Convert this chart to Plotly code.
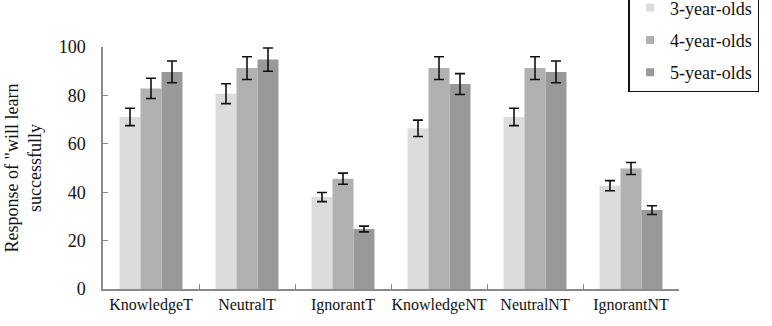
import plotly.graph_objects as go

categories = ["KnowledgeT", "NeutralT", "IgnorantT", "KnowledgeNT", "NeutralNT", "IgnorantNT"]
series_names = ["3-year-olds", "4-year-olds", "5-year-olds"]
age3 = [71.1, 80.7, 38.0, 66.4, 71.1, 42.7]
age4 = [82.9, 91.3, 45.6, 91.3, 91.3, 49.8]
age5 = [89.7, 94.8, 24.8, 84.7, 89.7, 32.6]
err3 = [3.6, 4.1, 1.9, 3.4, 3.6, 2.1]
err4 = [4.2, 4.7, 2.3, 4.7, 4.7, 2.5]
err5 = [4.5, 4.8, 1.2, 4.3, 4.5, 1.8]
colors = ["#dcdcdc", "#b1b1b1", "#999999"]
y_ticks = [0, 20, 40, 60, 80, 100]

FONT = "Times New Roman, Liberation Serif, DejaVu Serif, serif"

fig = go.Figure()
for name, vals, errs, col in zip(series_names, [age3, age4, age5], [err3, err4, err5], colors):
    fig.add_trace(go.Bar(
        x=categories, y=vals, name=name, marker=dict(color=col, line=dict(width=0)),
        error_y=dict(type="data", array=errs, visible=True, color="#111111", thickness=1.6, width=5),
        showlegend=False,
    ))
for name, col in zip(series_names, colors):
    fig.add_trace(go.Scatter(
        x=[None], y=[None], mode="markers", name=name, legendgroup=name,
        marker=dict(symbol="square", size=8, color=col),
    ))

fig.update_layout(
    width=772, height=326,
    margin=dict(l=103, r=93, t=47, b=37, autoexpand=False),
    paper_bgcolor="white", plot_bgcolor="white",
    barmode="group", bargap=0.344, bargroupgap=0,
    font=dict(family=FONT, color="#111111", size=18),
    showlegend=True,
    legend=dict(x=0.912, xanchor="left", y=0.812, yanchor="bottom",
                bordercolor="#111111", borderwidth=1.8, bgcolor="white",
                font=dict(family=FONT, size=18, color="#111111"),
                tracegroupgap=6, traceorder="grouped"),
    xaxis=dict(showline=True, linecolor="#8a8a8a", linewidth=1.5,
               ticks="inside", ticklen=5, tickcolor="#8a8a8a", tickson="boundaries",
               tickangle=0,
               tickfont=dict(family=FONT, size=16, color="#111111"),
               showgrid=False, zeroline=False),
    yaxis=dict(range=[0, 100], tickvals=y_ticks, showline=True, linecolor="#8a8a8a", linewidth=1.5,
               ticks="inside", ticklen=5, tickcolor="#8a8a8a",
               tickfont=dict(family=FONT, size=18, color="#111111"),
               ticklabelstandoff=12,
               showgrid=False, zeroline=False,
               title=dict(text="Response of \"will learn<br>successfully", standoff=12,
                          font=dict(family=FONT, size=18, color="#111111"))),
)

fig.write_html("out.html")
